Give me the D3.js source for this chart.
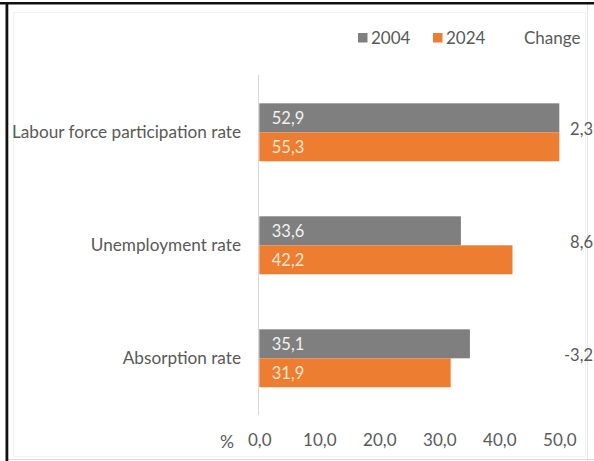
<!DOCTYPE html>
<html>
<head>
<meta charset="utf-8">
<script src="https://cdn.jsdelivr.net/npm/d3@7"></script>
<style>
  html, body { margin: 0; padding: 0; background: #fff; }
  svg { display: block; }
  text { font-family: Lato, "Open Sans", sans-serif; fill: #595959; }
</style>
</head>
<body>
<svg id="chart" width="594" height="461"></svg>
<script>
// Labour market indicators, 2004 vs 2024 (%)
const categories = ["Labour force participation rate", "Unemployment rate", "Absorption rate"];
const years = ["2004", "2024"];
const values2004 = [52.9, 33.6, 35.1];
const values2024 = [55.3, 42.2, 31.9];
const changes = [2.3, 8.6, -3.2];
const tickValues = [0, 10, 20, 30, 40, 50];
const colors = ["#7f7f7f", "#ed7d31"];

const locale = d3.formatLocale({ decimal: ",", thousands: ".", grouping: [3], currency: ["", ""], minus: "-" });
const fmt = locale.format(".1f");

const svg = d3.select("#chart");
const W = 594, H = 461;

// frame
svg.append("rect").attr("x", 0).attr("y", 0).attr("width", W).attr("height", H).attr("fill", "#fff");
svg.append("line").attr("x1", 587.5).attr("x2", 587.5).attr("y1", 3).attr("y2", H).attr("stroke", "#e6e6e6");
svg.append("line").attr("x1", 6).attr("x2", W).attr("y1", 459.5).attr("y2", 459.5).attr("stroke", "#dedede");
svg.append("rect").attr("x", 13.5).attr("y", 12.5).attr("width", 572).attr("height", 444)
  .attr("fill", "none").attr("stroke", "#f2f2f2");
svg.append("rect").attr("x", 0).attr("y", 2).attr("width", W).attr("height", 2.5).attr("fill", "#111");
svg.append("rect").attr("x", 5.5).attr("y", 2).attr("width", 2.8).attr("height", H).attr("fill", "#111");

const x = d3.scaleLinear().domain([0, 50]).range([259.3, 559.3]).clamp(true);
const y = d3.scaleBand().domain(categories).range([75.8, 414.8]).paddingInner(0.487).paddingOuter(0.2435);
const ySub = d3.scaleBand().domain(years).range([0, y.bandwidth()]);

const rows = categories.map((c, i) => ({ cat: c, vals: [values2004[i], values2024[i]], change: changes[i] }));

// vertical category axis line
svg.append("line")
  .attr("x1", x(0) - 0.8).attr("x2", x(0) - 0.8)
  .attr("y1", 75).attr("y2", 415)
  .attr("stroke", "#d9d9d9").attr("stroke-width", 1);

// bars
const g = svg.selectAll("g.row").data(rows).join("g").attr("class", "row")
  .attr("transform", d => `translate(0,${y(d.cat)})`);

g.selectAll("rect.bar").data(d => d.vals.map((v, j) => ({ v, year: years[j], j })))
  .join("rect").attr("class", "bar")
  .attr("x", x(0))
  .attr("y", d => ySub(d.year))
  .attr("width", d => x(d.v) - x(0))
  .attr("height", ySub.bandwidth())
  .attr("fill", d => colors[d.j]);

// value labels inside bars
g.selectAll("text.val").data(d => d.vals.map((v, j) => ({ v, year: years[j], j })))
  .join("text").attr("class", "val")
  .attr("x", x(0) + 12.5)
  .attr("y", d => ySub(d.year) + ySub.bandwidth() / 2)
  .attr("dy", "0.35em")
  .attr("font-size", 16.5)
  .style("fill", d => d.j === 0 ? "#f2f2f2" : "#fde6cf")
  .text(d => fmt(d.v));

// category labels
g.append("text")
  .attr("x", 241)
  .attr("y", y.bandwidth() / 2)
  .attr("dy", "0.35em")
  .attr("text-anchor", "end")
  .attr("font-size", 17.2)
  .text(d => d.cat);

// change column
g.append("text")
  .attr("x", 593)
  .attr("y", y.bandwidth() / 2 - 3)
  .attr("dy", "0.35em")
  .attr("text-anchor", "end")
  .attr("font-size", 16.5)
  .text(d => fmt(d.change));

// x axis tick labels
const axis = d3.axisBottom(x).tickValues(tickValues).tickFormat(fmt).tickSize(0).tickPadding(0);
const ax = svg.append("g").attr("transform", "translate(0,437)").call(axis);
ax.select(".domain").remove();
ax.selectAll("text").attr("font-size", 17).attr("font-family", null).attr("fill", null).attr("dy", "0.55em");
svg.append("text").attr("x", 227).attr("y", 442).attr("dy", "0.35em")
  .attr("text-anchor", "middle").attr("font-size", 17.5).text("%");

// legend
const legend = svg.append("g");
const items = [{ label: years[0], color: colors[0], x: 358 }, { label: years[1], color: colors[1], x: 433 }];
items.forEach(it => {
  legend.append("rect").attr("x", it.x).attr("y", 33).attr("width", 9.5).attr("height", 9.5).attr("fill", it.color);
  legend.append("text").attr("x", it.x + 13).attr("y", 38).attr("dy", "0.35em").attr("font-size", 17).text(it.label);
});
legend.append("text").attr("x", 524).attr("y", 38).attr("dy", "0.35em").attr("font-size", 17).text("Change");
</script>
</body>
</html>
